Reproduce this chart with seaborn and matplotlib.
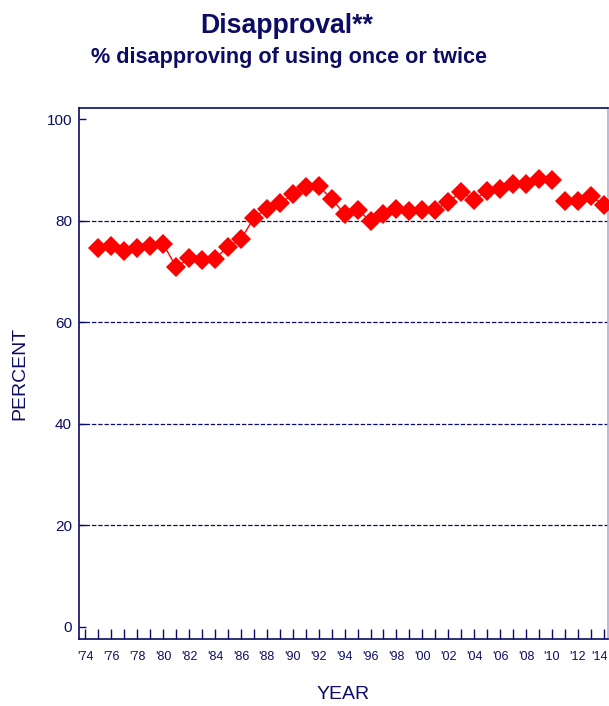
import numpy as np
import pandas as pd
import matplotlib
matplotlib.use("Agg")
import matplotlib.pyplot as plt
import matplotlib.transforms as mtransforms
import seaborn as sns

years = list(range(1975, 2015))
disapproval = [74.7, 75.0, 74.1, 74.7, 75.0, 75.4, 70.9, 72.6, 72.2, 72.5,
               74.9, 76.3, 80.6, 82.4, 83.4, 85.2, 86.6, 86.8, 84.3, 81.3,
               82.2, 79.9, 81.3, 82.4, 81.9, 82.1, 82.2, 83.7, 85.7, 84.1,
               85.9, 86.2, 87.2, 87.2, 88.2, 88.0, 83.9, 83.9, 84.9, 83.1]
# line is broken between 2010 and 2011
segment = [1 if y <= 2010 else 2 for y in years]

tick_years = list(range(1974, 2015))
label_years = list(range(1974, 2015, 2))
tick_labels = ["'%02d" % (y % 100) for y in label_years]
y_ticks = [0, 20, 40, 60, 80, 100]
grid_vals = [20, 40, 60, 80]

navy = "#0c0c64"

df = pd.DataFrame({"Year": years, "Percent": disapproval, "Segment": segment})

sns.set_style("white")
plt.rcParams["font.family"] = ["Liberation Sans", "DejaVu Sans"]

fig = plt.figure(figsize=(6.09, 7.06), dpi=100)
ax = fig.add_axes([79 / 609, 1 - 639 / 706, 529 / 609, 531 / 706])

for g in grid_vals:
    ax.axhline(g, color=navy, lw=0.9, ls=(0, (3.5, 1.5)), zorder=1)

sns.lineplot(data=df, x="Year", y="Percent", units="Segment", estimator=None,
             color="#ff0000", lw=1.0, marker="D", markersize=10,
             markeredgecolor="#ff0000", markeredgewidth=0, ax=ax, zorder=3)

ax.set_xlim(1973.5, 2014.33)
ax.set_ylim(-2.4, 102.2)
ax.set_xticks(tick_years, minor=True)
ax.set_xticks(label_years)
ax.set_xticklabels(tick_labels)
ax.set_yticks(y_ticks)
ax.tick_params(axis="x", which="both", bottom=True, direction="in", length=7,
               width=1, color=navy, labelcolor=navy, labelsize=9, pad=9)
ax.tick_params(axis="x", which="minor", labelbottom=False)
ax.tick_params(axis="y", left=True, direction="in", length=5, width=1,
               color=navy, labelcolor=navy, labelsize=11, pad=5)

# keep the last year label inside the figure edge
last = ax.get_xticklabels()[-1]
last.set_transform(last.get_transform() +
                   mtransforms.ScaledTranslation(-4 / 100, 0, fig.dpi_scale_trans))

for side in ["left", "bottom", "top"]:
    ax.spines[side].set_color(navy)
    ax.spines[side].set_linewidth(1.2)
ax.spines["right"].set_color("#b0b0d0")
ax.spines["right"].set_linewidth(1.2)

ax.set_xlabel("YEAR", color=navy, fontsize=14, labelpad=16)
ax.set_ylabel("PERCENT", color=navy, fontsize=14, labelpad=13)

fig.text(287 / 609, 1 - 33 / 706, "Disapproval**", ha="center", va="baseline",
         fontsize=19.2, fontweight="bold", color=navy)
fig.text(289 / 609, 1 - 63.5 / 706, "% disapproving of using once or twice",
         ha="center", va="baseline", fontsize=15.6, fontweight="bold", color=navy)

fig.savefig("out.png", dpi=100)
